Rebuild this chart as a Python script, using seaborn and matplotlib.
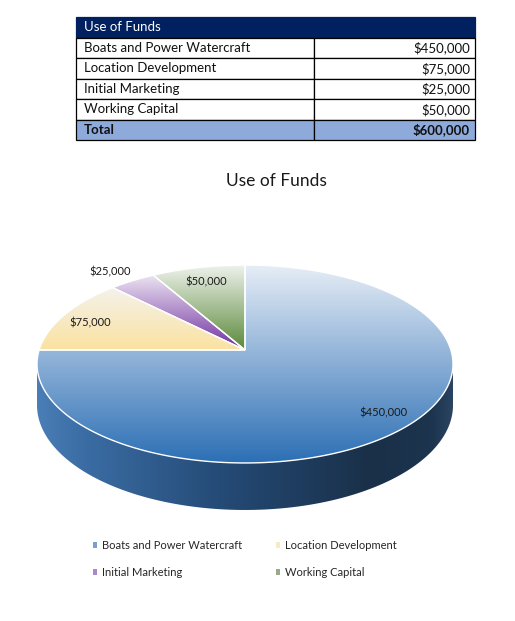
import numpy as np
import matplotlib
matplotlib.use("Agg")
import matplotlib.pyplot as plt
import seaborn as sns
from matplotlib.transforms import Transform
from matplotlib.path import Path
from matplotlib.patches import PathPatch, Patch
from matplotlib.colors import to_rgb

# ---------------- data ----------------
categories = ["Boats and Power Watercraft", "Location Development",
              "Initial Marketing", "Working Capital"]
amounts = [450000, 75000, 25000, 50000]
amount_labels = ["$450,000", "$75,000", "$25,000", "$50,000"]
total_label = "$600,000"
table_title = "Use of Funds"
chart_title = "Use of Funds"

# ---------------- styles ----------------
top_grad = [("#e6edf6", "#2c6fb5"),   # boats
            ("#f5f2ec", "#fae2a0"),   # location
            ("#ebe3f1", "#7030a0"),   # marketing
            ("#eef2ec", "#5a893a")]   # working capital
side_stops = {0: [(0.0, "#4a7eb6"), (0.12, "#3a6ca3"), (0.45, "#244a75"),
                  (0.8, "#1a3049"), (0.95, "#1d344e"), (1.0, "#2a4461")]}
legend_colors = ["#7a9fcf", "#f7ebc3", "#a88bcb", "#9aa88e"]
label_pos = [(383, 413), (90, 323), (110, 272), (206, 282)]

sns.set_theme(style="white")
plt.rcParams["font.family"] = ["Lato", "DejaVu Sans"]

W, H = 515, 621
fig = plt.figure(figsize=(W / 100, H / 100), dpi=100)


class Tilt(Transform):
    """Perspective view of a flat disk (u, v) -> pixel coordinates."""
    input_dims = output_dims = 2
    is_separable = False
    has_inverse = False

    def __init__(self, cx, cy, a, b, k, drop=0.0):
        super().__init__()
        self.cx, self.cy, self.a, self.b, self.k, self.drop = cx, cy, a, b, k, drop

    def transform_non_affine(self, values):
        values = np.asarray(values, float).reshape(-1, 2)
        u, v = values[:, 0], values[:, 1]
        w = 1 + self.k * v
        return np.column_stack([self.cx + self.a * u / w,
                                self.cy - self.b * v / w + self.drop / w])

    def transform_path_non_affine(self, path):
        pts = []
        for seg, code in path.iter_bezier(simplify=False):
            if code == Path.MOVETO:
                pts.append(np.atleast_2d(seg.control_points))
            else:
                pts.append(seg(np.linspace(0, 1, 40)[1:]))
        v = np.concatenate(pts)
        return Path(self.transform_non_affine(v), closed=True)


# ---------------- table ----------------
tax = fig.add_axes([76 / W, 1 - 140 / H, 399 / W, 123 / H])
tax.axis("off")
cell_text = [[table_title, ""]] + [[c, l] for c, l in zip(categories, amount_labels)] \
    + [["Total", total_label]]
tbl = tax.table(cellText=cell_text, bbox=[0, 0, 1, 1],
                colWidths=[238 / 399, 161 / 399], cellLoc="left")
tbl.auto_set_font_size(False)
tbl.set_fontsize(9.5)
nrows = len(cell_text)
for (r, c), cell in tbl.get_celld().items():
    cell.set_linewidth(0.9)
    cell.set_edgecolor("#000000")
    txt = cell.get_text()
    txt.set_color("#111111")
    if c == 1:
        cell._loc = "right"
        txt.set_horizontalalignment("right")
        cell.PAD = 5 / 161
    else:
        cell._loc = "left"
        txt.set_horizontalalignment("left")
        cell.PAD = 8 / 238
    if r == 0:
        cell.set_facecolor("#002060")
        cell.set_edgecolor("#002060")
        txt.set_color("white")
    elif r == nrows - 1:
        cell.set_facecolor("#8eaadb")
        txt.set_fontweight("bold")
    if r == 1:
        cell.set_zorder(0.5)

fig.text(276 / W, 1 - 181 / H, chart_title, ha="center", va="center",
         fontsize=12.5, color="#1a1a1a")

# ---------------- pie ----------------
pax = fig.add_axes([0, 0, 1, 1])
k = 0.1414
tilt = Tilt(245, 350, 205.9, 97.0, k)
tilt_bot = Tilt(245, 350, 205.9, 97.0, k, drop=47 * (1 - k))

wedges, _ = pax.pie(amounts, startangle=90, counterclock=False, radius=1,
                    center=(0, 0),
                    wedgeprops=dict(linewidth=1.0, edgecolor="white"))
pax.set_aspect("auto")
pax.set_xlim(0, W)
pax.set_ylim(H, 0)
pax.axis("off")


def vgrad(c_top, c_bot, n=256):
    t = np.linspace(0, 1, n)[:, None]
    a, b = np.array(to_rgb(c_top)), np.array(to_rgb(c_bot))
    return (a * (1 - t) + b * t)[:, None, :]


def hgrad(stops, n=512):
    x = np.linspace(0, 1, n)
    pos = [s[0] for s in stops]
    cols = np.array([to_rgb(s[1]) for s in stops])
    out = np.stack([np.interp(x, pos, cols[:, i]) for i in range(3)], axis=-1)
    return out[None, :, :]


for i, w in enumerate(wedges):
    w.set_transform(tilt + pax.transData)
    w.set_facecolor("none")
    w.set_zorder(3)
    ext = tilt.transform_path_non_affine(w.get_path()).get_extents()
    im = pax.imshow(vgrad(*top_grad[i]), extent=(ext.x0, ext.x1, ext.y0, ext.y1),
                    origin="lower", aspect="auto", zorder=2, interpolation="bilinear")
    im.set_clip_path(w)

    # visible side band of this wedge
    th = np.linspace(np.radians(w.theta1), np.radians(w.theta2), 600)
    th = th[np.sin(th) <= -k]
    if len(th) > 1 and i in side_stops:
        uv = np.column_stack([np.cos(th), np.sin(th)])
        top = tilt.transform(uv)
        bot = tilt_bot.transform(uv)
        verts = np.vstack([top, bot[::-1], top[:1]])
        side = PathPatch(Path(verts, closed=True), facecolor="none",
                         edgecolor="none", transform=pax.transData, zorder=1)
        pax.add_patch(side)
        sx0, sx1 = verts[:, 0].min(), verts[:, 0].max()
        sy0, sy1 = verts[:, 1].min(), verts[:, 1].max()
        sim = pax.imshow(hgrad(side_stops[i]), extent=(sx0, sx1, sy0, sy1),
                         origin="lower", aspect="auto", zorder=1,
                         interpolation="bilinear")
        sim.set_clip_path(side)

for (x, y), lab in zip(label_pos, amount_labels):
    pax.text(x, y, lab, ha="center", va="center", fontsize=8, color="#1a1a1a",
             zorder=5)

pax.set_xlim(0, W)
pax.set_ylim(H, 0)

# ---------------- legend (row-major order like the reference) ----------------
handles = [Patch(facecolor=c, edgecolor="none") for c in legend_colors]
order = [0, 2, 1, 3]
fig.legend([handles[j] for j in order], [categories[j] for j in order],
           loc="upper left", bbox_to_anchor=(93 / W, 1 - 540 / H), ncol=2,
           frameon=False, fontsize=8, handlelength=0.4, handleheight=0.4,
           handletextpad=0.45, columnspacing=3.0, labelspacing=1.42,
           borderpad=0, borderaxespad=0, labelcolor="#262626")

fig.savefig("out.png", dpi=100)
